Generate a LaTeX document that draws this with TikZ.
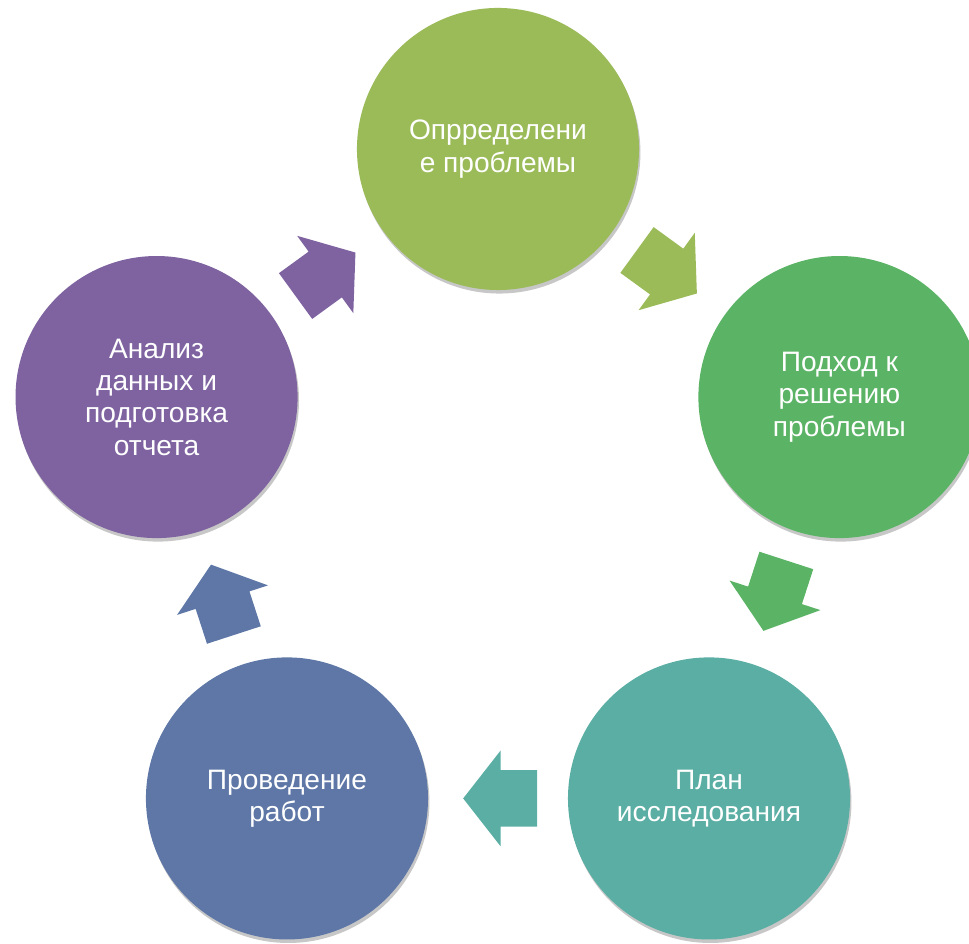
\documentclass[tikz,border=0pt]{standalone}
\usepackage{fontspec}
\setmainfont{Liberation Sans}
\usetikzlibrary{shapes.arrows,shadows}
\definecolor{cycolive}{HTML}{9BBB59}
\definecolor{cycgreen}{HTML}{5BB365}
\definecolor{cycteal}{HTML}{5BAEA4}
\definecolor{cycblue}{HTML}{5E77A6}
\definecolor{cycpurple}{HTML}{7F63A1}

\begin{document}
\begin{tikzpicture}[x=.025cm,y=.025cm,
  font=\fontsize{20}{23}\selectfont,text=white,
  stage/.style={circle,minimum size=7.05cm,inner sep=0pt,align=center,
    drop shadow={shadow xshift=1pt,shadow yshift=-2.5pt,opacity=.22,fill=black}},
  flow/.style={single arrow,minimum height=1.85cm,
    single arrow head extend=.4875cm,single arrow tip angle=104,
    inner xsep=0pt,inner ysep=.7cm,sloped,allow upside down,pos=.405}]
  \useasboundingbox (-498,-436) rectangle (471,508);
  % пять этапов по кругу
  \node[stage,fill=cycolive] (defn) at (90:359) {Опрределени\\е проблемы};
  \node[stage,fill=cycgreen] (approach) at (18:359) {Подход к\\решению\\проблемы};
  \node[stage,fill=cycteal] (plan) at (-54:359) {План\\исследования};
  \node[stage,fill=cycblue] (works) at (-126:359) {Проведение\\работ};
  \node[stage,fill=cycpurple] (analysis) at (162:359) {Анализ\\данных и\\подготовка\\отчета};
  % стрелки между этапами
  \path (defn) -- node[flow,fill=cycolive] (arrDefn) {} (approach);
  \path (approach) -- node[flow,fill=cycgreen] (arrApproach) {} (plan);
  \path (plan) -- node[flow,fill=cycteal] (arrPlan) {} (works);
  \path (works) -- node[flow,fill=cycblue] (arrWorks) {} (analysis);
  \path (analysis) -- node[flow,fill=cycpurple] (arrAnalysis) {} (defn);
\end{tikzpicture}
\end{document}
